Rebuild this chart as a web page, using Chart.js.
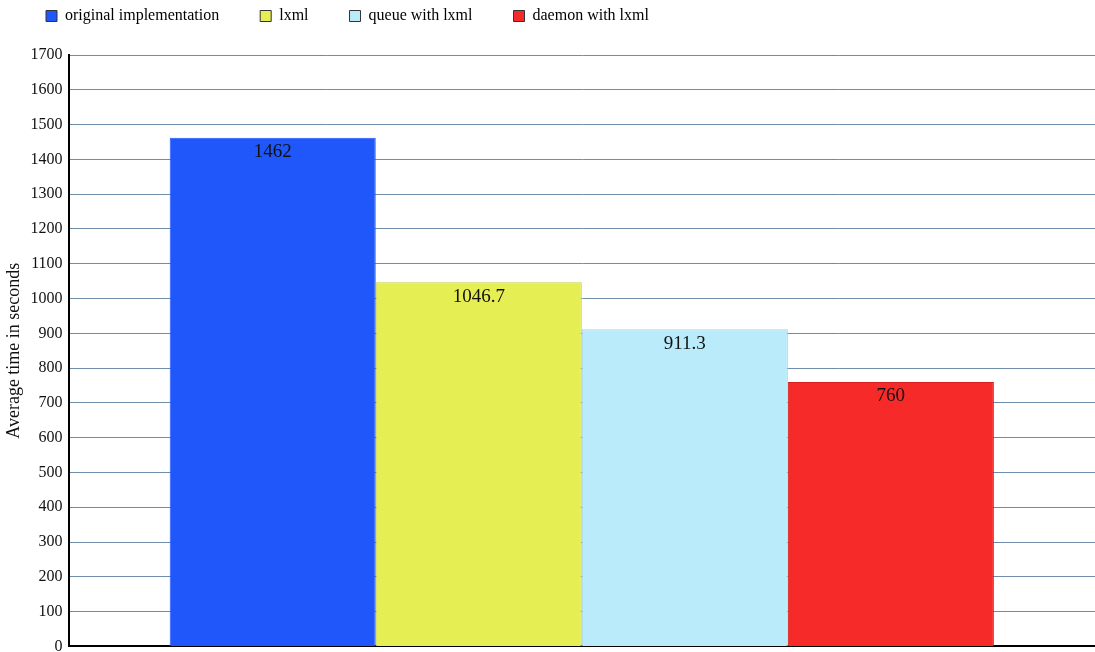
<!DOCTYPE html>
<html>
<head>
<meta charset="utf-8">
<script src="https://cdn.jsdelivr.net/npm/chart.js@4/dist/chart.umd.min.js"></script>
<style>
  html, body { margin: 0; padding: 0; background: #fff; overflow: hidden; }
  #clip { width: 1095px; height: 652px; overflow: hidden; position: relative; }
  #wrap { width: 1095px; height: 662px; position: relative; }
</style>
</head>
<body>
<div id="clip"><div id="wrap"><canvas id="c"></canvas></div></div>
<script>
const categories = [''];
const seriesNames = ['original implementation', 'lxml', 'queue with lxml', 'daemon with lxml'];
const seriesValues = [1462, 1046.7, 911.3, 760];
const seriesLabels = ['1462', '1046.7', '911.3', '760'];
const seriesColors = ['#1f57fb', '#e5ee53', '#b9ebfb', '#f72a2a'];
const seriesBorders = ['#1f57fb', '#c8cf45', '#9fd3e6', '#d82020'];
const yTicks = [0, 100, 200, 300, 400, 500, 600, 700, 800, 900, 1000, 1100, 1200, 1300, 1400, 1500, 1600, 1700];

const FONT = '"Liberation Serif", "Times New Roman", serif';

const valueLabels = {
  id: 'valueLabels',
  afterDatasetsDraw(chart) {
    const ctx = chart.ctx;
    ctx.save();
    ctx.font = '19px ' + FONT;
    ctx.fillStyle = '#111';
    ctx.textAlign = 'center';
    ctx.textBaseline = 'top';
    chart.data.datasets.forEach((ds, i) => {
      const meta = chart.getDatasetMeta(i);
      meta.data.forEach((bar) => {
        ctx.fillText(seriesLabels[i], bar.x, bar.y + 5);
      });
    });
    ctx.restore();
  }
};

const legendShift = {
  id: 'legendShift',
  afterLayout(chart) {
    chart.legend.left += 5;
    chart.legend.top -= 21;
  }
};

new Chart(document.getElementById('c'), {
  type: 'bar',
  data: {
    labels: categories,
    datasets: seriesNames.map((n, i) => ({
      label: n,
      data: [seriesValues[i]],
      backgroundColor: seriesColors[i],
      borderColor: seriesBorders[i],
      borderWidth: 1,
      categoryPercentage: 0.803,
      barPercentage: 1.0
    }))
  },
  options: {
    responsive: true,
    maintainAspectRatio: false,
    animation: false,
    layout: { padding: { top: -12, left: 0, right: 0, bottom: 0 } },
    plugins: {
      legend: {
        position: 'top',
        align: 'start',
        labels: {
          boxWidth: 11,
          boxHeight: 11,
          padding: 41,
          color: '#111',
          font: { family: FONT, size: 16 },
          generateLabels(chart) {
            return chart.data.datasets.map((ds, i) => ({
              text: ds.label,
              fillStyle: seriesColors[i],
              strokeStyle: '#333',
              lineWidth: 1,
              hidden: false,
              datasetIndex: i
            }));
          }
        }
      },
      tooltip: { enabled: false }
    },
    scales: {
      x: {
        ticks: { display: false },
        grid: { display: false, drawTicks: false },
        border: { display: true, color: '#000', width: 2 }
      },
      y: {
        min: 0,
        max: 1700,
        afterBuildTicks(scale) { scale.ticks = yTicks.map(v => ({ value: v })); },
        ticks: {
          color: '#111',
          font: { family: FONT, size: 16 },
          padding: 6,
          callback: (v) => String(v)
        },
        grid: { color: '#6f8caa', lineWidth: 1, drawTicks: false },
        border: { display: true, color: '#000', width: 2 },
        title: {
          display: true,
          text: 'Average time in seconds',
          color: '#111',
          font: { family: FONT, size: 18 },
          padding: { top: 3, bottom: 0 }
        }
      }
    }
  },
  plugins: [valueLabels, legendShift]
});
</script>
</body>
</html>
